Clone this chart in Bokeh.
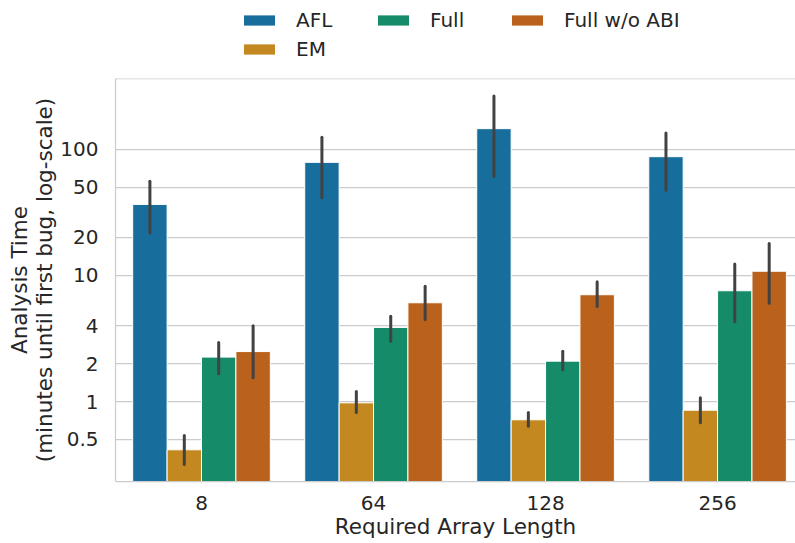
from bokeh.plotting import figure
from bokeh.layouts import column
from bokeh.models import (Range1d, FixedTicker, ColumnDataSource, Legend, LegendItem, Span)
from bokeh.embed import file_html
from bokeh.resources import INLINE

# ---- data ----
categories = ["8", "64", "128", "256"]
series = ["AFL", "EM", "Full", "Full w/o ABI"]

afl_mean = [36.6, 78.9, 146.0, 87.5]
afl_low = [21.7, 41.4, 61.0, 47.3]
afl_high = [56.0, 125.0, 265.0, 135.0]

em_mean = [0.414, 0.976, 0.716, 0.853]
em_low = [0.316, 0.82, 0.637, 0.677]
em_high = [0.537, 1.2, 0.82, 1.07]

full_mean = [2.25, 3.87, 2.09, 7.56]
full_low = [1.66, 3.01, 1.79, 4.29]
full_high = [2.94, 4.75, 2.51, 12.3]

fwo_mean = [2.49, 6.07, 7.03, 10.8]
fwo_low = [1.54, 4.48, 5.67, 6.03]
fwo_high = [3.99, 8.2, 8.91, 17.9]

y_ticks = [0.5, 1, 2, 4, 10, 20, 50, 100]
y_tick_labels = ["0.5", "1", "2", "4", "10", "20", "50", "100"]

colors = ["#176d9c", "#c38820", "#168b6a", "#ba611b"]
means = [afl_mean, em_mean, full_mean, fwo_mean]
lows = [afl_low, em_low, full_low, fwo_low]
highs = [afl_high, em_high, full_high, fwo_high]

y_min, y_max = 0.232, 365
bar_w = 0.2
FONT = "DejaVu Sans"
TXT = "#262626"
GRID = "#cccccc"
LEGEND_H = 78

# ---------------- main chart ----------------
p = figure(width=795, height=543 - LEGEND_H, y_axis_type="log",
           x_range=Range1d(-0.5, 3.453), y_range=Range1d(y_min, y_max),
           output_backend="svg", toolbar_location=None,
           min_border_left=115, min_border_right=0, min_border_top=0,
           min_border_bottom=62)
p.outline_line_color = None
p.background_fill_color = "white"
p.border_fill_color = "white"

sources = []
for k, name in enumerate(series):
    offset = (k - 1.5) * bar_w
    xs = [i + offset for i in range(len(categories))]
    src = ColumnDataSource(dict(x=xs, top=means[k], low=lows[k], high=highs[k]))
    sources.append(src)
    p.vbar(x="x", top="top", bottom=y_min / 10, width=bar_w, source=src,
           fill_color=colors[k], line_color="white", line_width=1)
    p.segment(x0="x", x1="x", y0="low", y1="high", source=src,
              line_color="#424242", line_width=3, line_cap="round")

# top spine
p.add_layout(Span(location=y_max, dimension="width", line_color=GRID, line_width=1.25))

p.xaxis.ticker = FixedTicker(ticks=list(range(len(categories))))
p.xaxis.major_label_overrides = {i: c for i, c in enumerate(categories)}
p.yaxis.ticker = FixedTicker(ticks=y_ticks)
p.yaxis.major_label_overrides = {t: l for t, l in zip(y_ticks, y_tick_labels)}
p.xgrid.grid_line_color = None
p.ygrid.grid_line_color = GRID
p.ygrid.grid_line_width = 1.25
p.ygrid.minor_grid_line_color = None

for ax in (p.xaxis[0], p.yaxis[0]):
    ax.axis_line_color = GRID
    ax.axis_line_width = 1.25
    ax.major_tick_line_color = None
    ax.minor_tick_line_color = None
    ax.major_label_text_font = FONT
    ax.major_label_text_font_size = "20px"
    ax.major_label_text_color = TXT
    ax.axis_label_text_font = FONT
    ax.axis_label_text_font_size = "21.5px"
    ax.axis_label_text_font_style = "normal"
    ax.axis_label_text_color = TXT

p.xaxis.axis_label = "Required Array Length"
p.xaxis.major_label_standoff = 8
p.xaxis.axis_label_standoff = 1
p.yaxis.axis_label = "Analysis Time\n(minutes until first bug, log-scale)"
p.yaxis.axis_label_text_line_height = 1.0
p.yaxis.major_label_standoff = 11
p.yaxis.axis_label_standoff = 0

# ---------------- legend strip above the chart ----------------
lg = figure(width=795, height=LEGEND_H, x_range=Range1d(0, 1), y_range=Range1d(0, 1),
            output_backend="svg", toolbar_location=None,
            x_axis_location=None, y_axis_location=None,
            min_border=0)
lg.outline_line_color = None
lg.grid.visible = False
lg_renderers = []
for k, name in enumerate(series):
    r = lg.vbar(x="x", top="top", width=bar_w, source=sources[k],
                fill_color=colors[k], line_color="white", line_width=1,
                visible=False)
    lg_renderers.append(r)

# matplotlib column-major order with 3 columns
# (frames of the column layout are aligned, so x is relative to the chart's left spine)
order = [0, 2, 3, 1]
legend = Legend(items=[LegendItem(label=series[k], renderers=[lg_renderers[k]]) for k in order],
                orientation="horizontal", ncols=3, location=(124, 16),
                label_text_font=FONT, label_text_font_size="20px", label_text_color=TXT,
                glyph_width=40, glyph_height=14, label_standoff=17,
                label_width=74, label_height=26, spacing=3,
                padding=0, margin=0, border_line_color=None,
                background_fill_alpha=0)
lg.add_layout(legend, "center")

layout = column(lg, p, spacing=0)
open("out.html", "w").write(file_html(layout, INLINE))
